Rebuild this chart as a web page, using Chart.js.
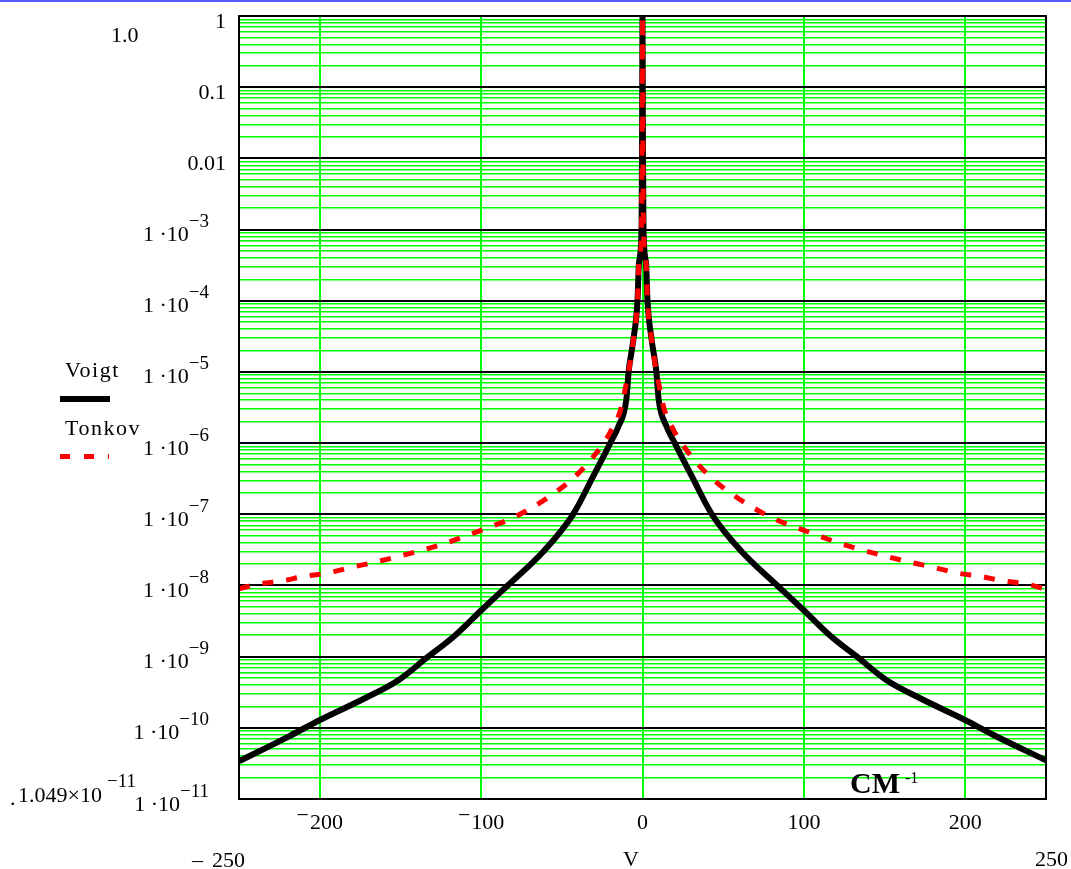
<!DOCTYPE html>
<html>
<head>
<meta charset="utf-8">
<script src="https://cdn.jsdelivr.net/npm/chart.js@4.4.1/dist/chart.umd.min.js"></script>
<style>
  html, body { margin: 0; padding: 0; background: #fff; }
  #chart { display: block; }
</style>
</head>
<body>
<canvas id="chart" width="1071" height="869"></canvas>
<script>
// ---- data (offset in cm-1, intensity) ----
const voigtNu = [-250, -219, -199.5, -172, -151, -134, -116, -99.4, -83.5, -61.4, -43, -30.6, -20, -15, -10, -8.6, -5.7, -3.1, -2.2, -0.6, -0.3, -0.15,
  0, 0.15, 0.3, 0.6, 2.2, 3.1, 5.7, 8.6, 10, 15, 20, 30.6, 43, 61.4, 83.5, 99.4, 116, 134, 151, 172, 199.5, 219, 250];
const voigtVal = [3.4e-11, 7.6e-11, 1.3e-10, 2.6e-10, 4.7e-10, 9.5e-10, 2e-9, 4.6e-9, 1e-8, 3e-8, 1e-7, 3.4e-7, 1e-6, 1.7e-6, 4.1e-6, 1e-5, 2.8e-5, 1e-4, 3.4e-4, 1e-3, 1e-2, 0.1,
  1, 0.1, 1e-2, 1e-3, 3.4e-4, 1e-4, 2.8e-5, 1e-5, 4.1e-6, 1.7e-6, 1e-6, 3.4e-7, 1e-7, 3e-8, 1e-8, 4.6e-9, 2e-9, 9.5e-10, 4.7e-10, 2.6e-10, 1.3e-10, 7.6e-11, 3.5e-11];

const tonkovNu = [-250, -237.7, -224.3, -208.9, -194.4, -180.4, -166.6, -150, -135, -122.4, -109, -95.6, -82.2, -68.8, -56.4, -43, -29.6, -19.8, -13.1, -10, -8.6, -5.7, -3.1, -2.2, -0.6, -0.3, -0.15,
  0, 0.15, 0.3, 0.6, 2.2, 3.1, 5.7, 8.6, 10, 13.1, 19.8, 29.6, 43, 56.4, 68.8, 82.2, 95.6, 109, 122.4, 135, 150, 166.6, 180.4, 194.4, 208.9, 224.3, 237.7, 250];
const tonkovVal = [9e-9, 1.05e-8, 1.15e-8, 1.35e-8, 1.5e-8, 1.8e-8, 2.1e-8, 2.6e-8, 3.2e-8, 3.9e-8, 5e-8, 6.5e-8, 8.5e-8, 1.23e-7, 1.86e-7, 3.2e-7, 6.8e-7, 1.45e-6, 3.2e-6, 7e-6, 1e-5, 2.8e-5, 1e-4, 3.4e-4, 1e-3, 1e-2, 0.1,
  1, 0.1, 1e-2, 1e-3, 3.4e-4, 1e-4, 2.8e-5, 1e-5, 7e-6, 3.2e-6, 1.45e-6, 6.8e-7, 3.2e-7, 1.86e-7, 1.23e-7, 8.5e-8, 6.5e-8, 5e-8, 3.9e-8, 3.2e-8, 2.6e-8, 2.1e-8, 1.8e-8, 1.5e-8, 1.35e-8, 1.15e-8, 1.05e-8, 8.9e-9];

const xTicks = [-200, -100, 0, 100, 200];
const yDecades = [0, -1, -2, -3, -4, -5, -6, -7, -8, -9, -10, -11];
const plainLabels = { '0': '1', '-1': '0.1', '-2': '0.01' };

const SERIF = '"Liberation Serif", "Times New Roman", serif';
const GREEN = '#00ff00';

function isDecade(v) {
  if (!v) return false;
  const l = Math.log10(v);
  return Math.abs(l - Math.round(l)) < 1e-9;
}

function toPoints(xs, ys) {
  return xs.map((x, i) => ({ x: x, y: ys[i] }));
}

// 1 ·10^-n label, right aligned
function drawPow(ctx, base, exp, rightX, baseline) {
  ctx.font = '22px ' + SERIF;
  const wb = ctx.measureText(base).width;
  ctx.font = '19px ' + SERIF;
  const we = ctx.measureText(exp).width;
  const x0 = rightX - wb - we;
  ctx.font = '22px ' + SERIF;
  ctx.fillText(base, x0, baseline);
  ctx.font = '19px ' + SERIF;
  ctx.fillText(exp, x0 + wb, baseline - 14);
}

const mathcadText = {
  id: 'mathcadText',
  afterDraw(chart) {
    const ctx = chart.ctx;
    const a = chart.chartArea;
    const ys = chart.scales.y;
    const xs = chart.scales.x;
    ctx.save();

    // thin blue strip along the top edge
    ctx.fillStyle = '#5a5aff';
    ctx.fillRect(0, 0, chart.width, 2);

    // frame
    ctx.strokeStyle = '#000';
    ctx.lineWidth = 2;
    ctx.strokeRect(a.left, a.top, a.right - a.left, a.bottom - a.top);

    ctx.fillStyle = '#000';
    ctx.textBaseline = 'alphabetic';
    ctx.textAlign = 'left';

    // y tick labels
    yDecades.forEach(e => {
      const y = ys.getPixelForValue(Math.pow(10, e));
      const baseline = y + 11.5;
      if (plainLabels[String(e)]) {
        ctx.font = '22px ' + SERIF;
        ctx.textAlign = 'right';
        ctx.fillText(plainLabels[String(e)], 226, baseline);
        ctx.textAlign = 'left';
      } else {
        drawPow(ctx, '1 \u00b710', '\u2212' + (-e), 209, baseline);
      }
    });

    // x tick labels (raised minus, Mathcad style)
    xs.ticks.forEach(t => {
      const px = xs.getPixelForValue(t.value);
      const txt = String(Math.abs(t.value));
      ctx.font = '22px ' + SERIF;
      const w = ctx.measureText(txt).width;
      const mw = t.value < 0 ? ctx.measureText('\u2212').width + 1 : 0;
      const x0 = px - (w + mw) / 2;
      if (t.value < 0) ctx.fillText('\u2212', x0, 822);
      ctx.fillText(txt, x0 + mw, 829);
    });

    // axis range and name
    ctx.font = '22px ' + SERIF;
    ctx.fillText('\u2013', 192, 867);
    ctx.fillText('250', 212, 867);
    ctx.fillText('250', 1035, 866);
    ctx.fillText('V', 623, 866);

    // extra y limits
    ctx.fillText('1.0', 111, 42);
    ctx.fillText('.', 10, 805);
    ctx.fillText('1.049\u00d710', 18, 802);
    ctx.font = '19px ' + SERIF;
    ctx.fillText('\u221211', 107, 787);

    // unit inside the plot
    ctx.font = 'bold 30px ' + SERIF;
    ctx.fillText('CM', 850, 793);
    ctx.font = '16px ' + SERIF;
    ctx.fillText('-1', 905, 783);

    // legend
    ctx.font = '22px ' + SERIF;
    ctx.letterSpacing = '1.5px';
    ctx.fillText('Voigt', 65, 377);
    ctx.fillText('Tonkov', 65, 435);
    ctx.letterSpacing = '0px';
    ctx.lineCap = 'butt';
    ctx.strokeStyle = '#000';
    ctx.lineWidth = 6;
    ctx.beginPath();
    ctx.moveTo(60, 399);
    ctx.lineTo(110, 399);
    ctx.stroke();
    ctx.strokeStyle = '#ff0000';
    ctx.lineWidth = 5;
    ctx.setLineDash([10, 14]);
    ctx.beginPath();
    ctx.moveTo(60, 456.5);
    ctx.lineTo(109, 456.5);
    ctx.stroke();

    ctx.restore();
  }
};

new Chart(document.getElementById('chart'), {
  type: 'line',
  data: {
    datasets: [
      {
        label: 'Tonkov',
        data: toPoints(tonkovNu, tonkovVal),
        borderColor: '#ff0000',
        borderWidth: 5,
        borderDash: [11, 13],
        pointRadius: 0,
        cubicInterpolationMode: 'monotone',
        clip: 0,
        order: 0
      },
      {
        label: 'Voigt',
        data: toPoints(voigtNu, voigtVal),
        borderColor: '#000000',
        borderWidth: 6,
        pointRadius: 0,
        cubicInterpolationMode: 'monotone',
        clip: 0,
        order: 1
      }
    ]
  },
  options: {
    responsive: false,
    animation: false,
    devicePixelRatio: 1,
    layout: { padding: { left: 0, top: 16, right: 25, bottom: 0 } },
    plugins: { legend: { display: false }, tooltip: { enabled: false } },
    scales: {
      x: {
        type: 'linear',
        min: -250,
        max: 250,
        afterBuildTicks: (scale) => { scale.ticks = xTicks.map(v => ({ value: v })); },
        afterFit: (scale) => { scale.height = 70; },
        ticks: { display: false },
        border: { display: false },
        grid: { color: GREEN, lineWidth: 2, drawTicks: false }
      },
      y: {
        type: 'logarithmic',
        min: 1e-11,
        max: 1,
        afterBuildTicks: (scale) => {
          const t = [];
          for (let e = -11; e <= 0; e++) {
            for (let m = 1; m <= 9; m++) {
              if (e === 0 && m > 1) break;
              t.push({ value: m * Math.pow(10, e) });
            }
          }
          scale.ticks = t;
        },
        afterFit: (scale) => { scale.width = 239; },
        ticks: { display: false },
        border: { display: false },
        grid: {
          drawTicks: false,
          color: (c) => isDecade(c.tick && c.tick.value) ? '#000000' : GREEN,
          lineWidth: (c) => isDecade(c.tick && c.tick.value) ? 2 : 1.5
        }
      }
    }
  },
  plugins: [mathcadText]
});
</script>
</body>
</html>
